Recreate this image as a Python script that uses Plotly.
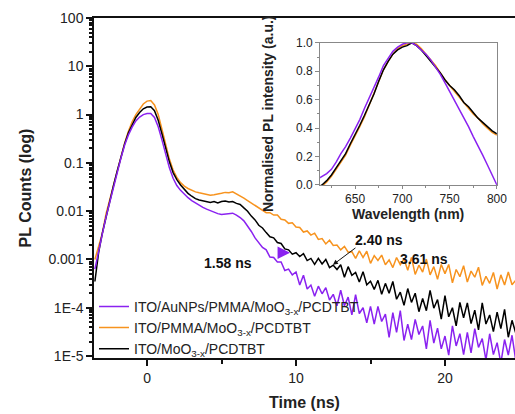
import plotly.graph_objects as go

# ---------------- data ----------------
time_ns = [-3.5, -3.25, -3.0, -2.75, -2.5, -2.25, -2.0, -1.75, -1.5, -1.25, -1.0, -0.75,
           -0.5, -0.25, 0.0, 0.25, 0.5, 0.75, 1.0, 1.25, 1.5, 1.75, 2.0, 2.25, 2.5, 2.75,
           3.0, 3.25, 3.5, 3.75, 4.0, 4.25, 4.5, 4.75, 5.0, 5.25, 5.5, 5.75, 6.0, 6.25,
           6.5, 6.75, 7.0, 7.25, 7.5, 7.75, 8.0, 8.25, 8.5, 8.75, 9.0, 9.25, 9.5, 9.75,
           10.0, 10.25, 10.5, 10.75, 11.0, 11.25, 11.5, 11.75, 12.0, 12.25, 12.5, 12.75,
           13.0, 13.25, 13.5, 13.75, 14.0, 14.25, 14.5, 14.75, 15.0, 15.25, 15.5, 15.75,
           16.0, 16.25, 16.5, 16.75, 17.0, 17.25, 17.5, 17.75, 18.0, 18.25, 18.5, 18.75,
           19.0, 19.25, 19.5, 19.75, 20.0, 20.25, 20.5, 20.75, 21.0, 21.25, 21.5, 21.75,
           22.0, 22.25, 22.5, 22.75, 23.0, 23.25, 23.5, 23.75, 24.0, 24.25, 24.5, 24.75, 25.0]

pl_aunps = [6.3e-4, 1.58e-3, 3.4e-3, 7.6e-3, 1.58e-2, 3.16e-2, 6.3e-2, 0.126, 0.234, 0.38, 0.55, 0.74,
            0.89, 1.0, 1.05, 1.05, 0.87, 0.56, 0.3, 0.151, 0.079, 0.048, 0.034, 0.027, 0.0224, 0.019,
            0.0166, 0.0148, 0.0132, 0.012, 0.011, 0.0102, 0.0095, 0.0089, 0.0085, 0.0087, 0.0089, 0.0091,
            0.0083, 0.0074, 0.0063, 0.005, 0.0038, 0.0028, 0.0022, 0.00178,
            1.58e-3, 1.12e-3, 1.1e-3, 8.9e-4, 8.9e-4, 5.9e-4, 6.3e-4, 4.8e-4,
            5.5e-4, 2.95e-4, 4.7e-4, 2.45e-4, 2.95e-4, 1.74e-4, 2.8e-4, 1.95e-4,
            2.6e-4, 1.45e-4, 1.9e-4, 1.1e-4, 2.3e-4, 1.1e-4, 1.66e-4, 7.1e-5,
            1.86e-4, 7.6e-5, 1.0e-4, 4.9e-5, 1.07e-4, 4.6e-5, 1.07e-4, 5.2e-5,
            7.4e-5, 2.45e-5, 7.9e-5, 3.1e-5, 8.7e-5, 2.1e-5, 4.6e-5, 2.2e-5,
            5.75e-5, 2.8e-5, 4.2e-5, 1.41e-5, 5.5e-5, 1.86e-5, 3.8e-5, 1.41e-5,
            2.6e-5, 1.05e-5, 4.2e-5, 1.62e-5, 2.9e-5, 1.07e-5, 3.1e-5, 1.17e-5,
            3.7e-5, 1.51e-5, 2.3e-5, 8.3e-6, 2.9e-5, 1.07e-5, 1.9e-5, 7.1e-6,
            2.2e-5, 1.05e-5, 2.7e-5, 8.1e-6, 1.51e-5]

pl_pmma = [1.0e-3, 2.0e-3, 3.5e-3, 8.9e-3, 1.74e-2, 3.5e-2, 6.9e-2, 0.138, 0.26, 0.45, 0.71, 1.0,
           1.32, 1.66, 1.9, 1.95, 1.58, 1.0, 0.5, 0.24, 0.12, 0.071, 0.05, 0.039, 0.033, 0.0295,
           0.0269, 0.0251, 0.024, 0.0229, 0.0224, 0.0214, 0.0219, 0.0224, 0.0234, 0.0245, 0.024, 0.0251,
           0.0229, 0.0209, 0.0186, 0.0166, 0.0148, 0.0132, 0.0117, 0.0107,
           9.3e-3, 9.3e-3, 8.3e-3, 8.3e-3, 6.8e-3, 6.6e-3, 5.6e-3, 5.75e-3,
           4.7e-3, 4.6e-3, 3.7e-3, 3.9e-3, 3.2e-3, 3.5e-3, 2.6e-3, 2.7e-3,
           2.1e-3, 2.5e-3, 1.95e-3, 2.0e-3, 1.58e-3, 1.86e-3, 1.41e-3, 1.45e-3,
           1.05e-3, 1.51e-3, 1.1e-3, 1.48e-3, 8.3e-4, 1.2e-3, 9.5e-4, 1.23e-3,
           7.8e-4, 9.8e-4, 6.8e-4, 1.1e-3, 7.8e-4, 1.02e-3, 6.0e-4, 1.1e-3,
           4.9e-4, 7.6e-4, 5.5e-4, 1.02e-3, 4.8e-4, 7.1e-4, 3.9e-4, 7.9e-4,
           5.1e-4, 7.9e-4, 3.3e-4, 6.2e-4, 4.4e-4, 7.4e-4, 3.4e-4, 5.75e-4,
           4.3e-4, 6.9e-4, 2.9e-4, 4.5e-4, 3.2e-4, 5.4e-4, 2.45e-4, 4.8e-4,
           2.95e-4, 5.5e-4, 3.0e-4, 3.7e-4, 2.4e-4]

pl_ref = [3.5e-4, 1.4e-3, 3.5e-3, 7.9e-3, 1.66e-2, 3.4e-2, 6.8e-2, 0.135, 0.25, 0.42, 0.63, 0.87,
          1.1, 1.32, 1.43, 1.45, 1.2, 0.76, 0.4, 0.2, 0.105, 0.063, 0.045, 0.035, 0.028, 0.0234,
          0.0204, 0.0182, 0.017, 0.0162, 0.0158, 0.0151, 0.0158, 0.0148, 0.0158, 0.0162, 0.0155, 0.0158,
          0.0145, 0.0138, 0.0117, 0.01, 0.0079, 0.0066, 0.0051, 0.0045,
          3.6e-3, 2.95e-3, 2.8e-3, 2.24e-3, 2.14e-3, 1.66e-3, 1.58e-3, 1.29e-3,
          1.38e-3, 1.15e-3, 1.32e-3, 9.5e-4, 1.05e-3, 7.9e-4, 1.05e-3, 8.1e-4,
          1.0e-3, 6.8e-4, 7.6e-4, 6.2e-4, 7.8e-4, 4.3e-4, 7.1e-4, 4.7e-4,
          5.4e-4, 3.4e-4, 5.6e-4, 3.0e-4, 3.55e-4, 2.4e-4, 3.7e-4, 1.9e-4,
          3.2e-4, 2.0e-4, 3.5e-4, 1.5e-4, 2.1e-4, 1.12e-4, 2.5e-4, 1.29e-4,
          2.0e-4, 8.3e-5, 1.55e-4, 8.7e-5, 2.3e-4, 9.8e-5, 1.48e-4, 5.8e-5,
          1.78e-4, 6.5e-5, 1.0e-4, 4.2e-5, 1.29e-4, 6.2e-5, 1.26e-4, 4.7e-5,
          8.9e-5, 3.5e-5, 1.26e-4, 4.6e-5, 7.1e-5, 3.2e-5, 8.1e-5, 3.7e-5,
          9.3e-5, 2.45e-5, 5.5e-5, 3.0e-5, 7.2e-5]

wavelength_nm = [610, 615, 620, 625, 630, 635, 640, 645, 650, 655, 660, 665, 670, 675, 680,
                 685, 690, 695, 700, 705, 710, 715, 720, 725, 730, 735, 740, 745, 750, 755,
                 760, 765, 770, 775, 780, 785, 790, 795, 800]

norm_aunps = [0.04, 0.06, 0.08, 0.11, 0.16, 0.22, 0.27, 0.33, 0.39, 0.46, 0.54, 0.61, 0.68,
              0.76, 0.84, 0.89, 0.94, 0.97, 0.99, 1.0, 1.0, 0.98, 0.95, 0.92, 0.88, 0.83,
              0.78, 0.72, 0.66, 0.60, 0.53, 0.47, 0.41, 0.34, 0.28, 0.21, 0.14, 0.07, 0.0]
norm_pmma = [-0.03, -0.01, 0.02, 0.06, 0.11, 0.16, 0.21, 0.28, 0.34, 0.41, 0.48, 0.56, 0.64,
             0.73, 0.81, 0.87, 0.92, 0.96, 0.98, 0.99, 1.0, 0.99, 0.96, 0.92, 0.88, 0.84,
             0.79, 0.74, 0.70, 0.66, 0.62, 0.58, 0.54, 0.50, 0.47, 0.43, 0.40, 0.37, 0.35]
norm_ref = [-0.02, 0.0, 0.03, 0.07, 0.12, 0.17, 0.22, 0.29, 0.35, 0.42, 0.49, 0.56, 0.64,
            0.73, 0.81, 0.87, 0.92, 0.95, 0.97, 0.98, 1.0, 0.98, 0.95, 0.91, 0.87, 0.83,
            0.79, 0.74, 0.70, 0.67, 0.63, 0.58, 0.55, 0.51, 0.47, 0.44, 0.41, 0.38, 0.36]

names = ["ITO/AuNPs/PMMA/MoO<sub>3-x</sub>/PCDTBT",
         "ITO/PMMA/MoO<sub>3-x</sub>/PCDTBT",
         "ITO/MoO<sub>3-x</sub>/PCDTBT"]
y_tickvals = [1e-5, 1e-4, 1e-3, 1e-2, 1e-1, 1, 10, 100]
y_ticktext = ["1E-5", "1E-4", "0.001", "0.01", "0.1", "1", "10", "100"]
lifetimes = ["1.58 ns", "2.40 ns", "3.61 ns"]
inset_x_title = "Wavelength (nm)"
inset_y_title = "Normalised PL intensity (a.u.)"

# ---------------- style ----------------
PURPLE = "#8A22F0"
ORANGE = "#F7931E"
BLACK = "#000000"
FONT = "Arial, Liberation Sans, sans-serif"

fig = go.Figure()

# main decays (drawn orange, black, purple so purple is on top)
fig.add_trace(go.Scatter(x=time_ns, y=pl_pmma, mode="lines", name=names[1],
                         line=dict(color=ORANGE, width=1.5), legendrank=2))
fig.add_trace(go.Scatter(x=time_ns, y=pl_ref, mode="lines", name=names[2],
                         line=dict(color=BLACK, width=1.5), legendrank=3))
fig.add_trace(go.Scatter(x=time_ns, y=pl_aunps, mode="lines", name=names[0],
                         line=dict(color=PURPLE, width=1.5), legendrank=1))

# inset spectra
fig.add_trace(go.Scatter(x=wavelength_nm, y=norm_pmma, mode="lines", xaxis="x2", yaxis="y2",
                         line=dict(color=ORANGE, width=1.5), showlegend=False))
fig.add_trace(go.Scatter(x=wavelength_nm, y=norm_ref, mode="lines", xaxis="x2", yaxis="y2",
                         line=dict(color=BLACK, width=1.5), showlegend=False))
fig.add_trace(go.Scatter(x=wavelength_nm, y=norm_aunps, mode="lines", xaxis="x2", yaxis="y2",
                         line=dict(color=PURPLE, width=1.5), showlegend=False))

minor_vals = [m * 10 ** e for e in range(-5, 2) for m in range(2, 10)]

fig.update_layout(
    width=515, height=414, autosize=False,
    margin=dict(l=94, r=0, t=18, b=56, autoexpand=False),
    paper_bgcolor="white", plot_bgcolor="white",
    font=dict(family=FONT, size=14, color="#222"),
    xaxis=dict(range=[-3.56, 24.7], tickvals=[0, 10, 20], ticks="outside", ticklen=6,
               tickwidth=1.5, tickcolor="#111", showline=True, linewidth=1.5, linecolor="#111",
               mirror=True, showgrid=False, zeroline=False, automargin=False,
               minor=dict(tickvals=[5, 15], ticks="outside", ticklen=4, tickcolor="#111"),
               title=dict(text="<b>Time (ns)</b>", font=dict(size=16), standoff=12),
               tickfont=dict(size=14)),
    yaxis=dict(type="log", range=[-5.04, 2], tickvals=y_tickvals, ticktext=y_ticktext,
               ticks="outside", ticklen=6, tickwidth=1.5, tickcolor="#111", showline=True,
               linewidth=1.5, linecolor="#111", showgrid=False, zeroline=False, automargin=False,
               minor=dict(tickvals=minor_vals, ticks="outside", ticklen=3, tickcolor="#111"),
               title=dict(text="<b>PL Counts (log)</b>", font=dict(size=16), standoff=13),
               tickfont=dict(size=14)),
    xaxis2=dict(domain=[0.537, 0.957], anchor="y2", range=[613, 800], tickvals=[650, 700, 750, 800],
                ticks="outside", ticklen=3, tickcolor="#888", showline=True, linewidth=1,
                linecolor="#888", mirror=True, showgrid=False, zeroline=False, automargin=False,
                minor=dict(tickvals=[625, 675, 725, 775], ticks="outside", ticklen=2, tickcolor="#888"),
                tickfont=dict(size=12)),
    yaxis2=dict(domain=[0.509, 0.927], anchor="x2", range=[0, 1.0],
                tickvals=[0, 0.2, 0.4, 0.6, 0.8, 1.0], tickformat=".1f",
                ticks="outside", ticklen=4, tickcolor="#888", showline=True, linewidth=1,
                linecolor="#888", mirror=True, showgrid=False, zeroline=False, automargin=False,
                minor=dict(tickvals=[0.1, 0.3, 0.5, 0.7, 0.9], ticks="outside", ticklen=2, tickcolor="#888"),
                tickfont=dict(size=12)),
    legend=dict(x=0.0, y=-0.02, xanchor="left", yanchor="bottom", bgcolor="rgba(0,0,0,0)",
                font=dict(size=14, color="#222"), tracegroupgap=0, itemwidth=30),
    showlegend=True,
)

# inset axis titles
fig.add_annotation(x=0.746, y=0.424, xref="paper", yref="paper", xanchor="center", yanchor="middle",
                   text="<b>%s</b>" % inset_x_title,
                   showarrow=False, font=dict(size=14, color="#222", family=FONT))
fig.add_annotation(x=0.413, y=0.72, xref="paper", yref="paper", xanchor="center", yanchor="middle",
                   text="<b>%s</b>" % inset_y_title,
                   textangle=-90, showarrow=False, font=dict(size=14, color="#222", family=FONT))

ann_font = dict(size=14, color="#111", family=FONT)
fig.add_annotation(x=5.44, y=-3.07, xref="x", yref="y", text="<b>%s</b>" % lifetimes[0],
                   showarrow=False, font=ann_font)
fig.add_annotation(x=15.6, y=-2.6, xref="x", yref="y", text="<b>%s</b>" % lifetimes[1],
                   showarrow=False, font=ann_font)
fig.add_annotation(x=18.6, y=-2.99, xref="x", yref="y", text="<b>%s</b>" % lifetimes[2],
                   showarrow=False, font=ann_font)
# arrow for 2.40 ns
fig.add_annotation(x=12.48, y=-3.11, xref="x", yref="y", text="", showarrow=True,
                   ax=24, ay=-18, arrowhead=2, arrowsize=1, arrowwidth=1, arrowcolor="#111")
# small purple arrow marker for 1.58 ns
fig.add_annotation(x=9.6, y=-2.86, xref="x", yref="y", text="", showarrow=True,
                   ax=-6, ay=0, arrowhead=2, arrowsize=1, arrowwidth=2.5, arrowcolor=PURPLE)

fig.write_html("out.html", config={"responsive": False})
